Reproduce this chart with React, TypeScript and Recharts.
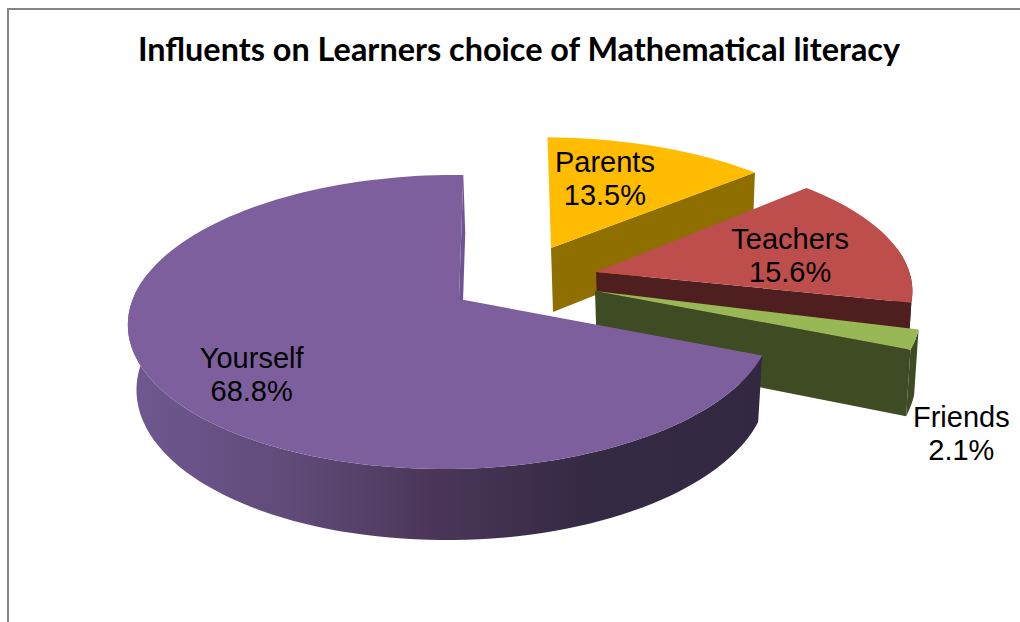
import React from "react";
import { PieChart, Pie } from "recharts";

const TITLE = "Influents on Learners choice of Mathematical literacy";
const CATEGORIES = ["Parents", "Teachers", "Friends", "Yourself"];
const VALUES = [13.5, 15.6, 2.1, 68.8];

const DATA = CATEGORIES.map((name, i) => ({ name, value: VALUES[i] }));

const CX = 459;
const CY = 299;
const RADIUS = 318;

// tilt of the fake 3D pie
const Y_RATIO = 0.451;
const PERSPECTIVE_V = 0.156;
const PERSPECTIVE_U = 0.025;
const DEPTH = 64;
const FLOOR_SHRINK = 0.98;
const FLOOR_SHIFT = 2;

// per slice look: how far it is pulled out, and its size
const SLICES: Record<string, any> = {
  Parents: { top: "#ffbc00", wall: "#8e6f00", face: "#8e6f00", dx: 92, dy: -51, scale: 0.97, squash: 0.92, turn: 0, skew: -4, labelAt: 0.6, nudge: [-9, -8] },
  Teachers: { top: "#be4e4c", wall: "#4f1e1e", face: "#4f1e1e", dx: 137, dy: -27, scale: 1.01, squash: 0.95, turn: 2, skew: 5, labelAt: 0.66, nudge: [1, 7] },
  Friends: { top: "#98b855", wall: "#3f4b23", face: "#3f4b23", dx: 136, dy: -8, scale: 1.04, squash: 1, turn: 0, skew: 5, labelAt: 1.14, nudge: [1, 87] },
  Yourself: { top: "#7e5f9d", wall: "url(#yourselfWall)", face: "#6e5490", dx: 0, dy: 0, scale: 1, squash: 1, turn: 0, skew: 5, labelAt: 0.7, nudge: [3, 13] },
};

function project(angle: number, r: number, s: any) {
  const a = ((angle + s.turn) * Math.PI) / 180;
  const u = Math.cos(a);
  const v = Math.sin(a);
  const d = 1 + PERSPECTIVE_V * v + PERSPECTIVE_U * u;
  return { x: (r * u + s.skew * v) / d, y: (-r * Y_RATIO * s.squash * v) / d, v };
}

function SliceShape(props: any) {
  const { cx, cy, outerRadius, startAngle, endAngle } = props;
  const name = props.payload?.name ?? props.name;
  const s = SLICES[name];
  const ox = cx + s.dx;
  const oy = cy + s.dy;
  const r = outerRadius * s.scale;

  const rim: { x: number; y: number; v: number }[] = [];
  const steps = Math.max(4, Math.ceil(Math.abs(endAngle - startAngle) / 2));
  for (let i = 0; i <= steps; i++) {
    rim.push(project(startAngle + ((endAngle - startAngle) * i) / steps, r, s));
  }
  const up = (p: any) => `${ox + p.x},${oy + p.y}`;
  const down = (p: any) => `${ox + p.x * FLOOR_SHRINK + FLOOR_SHIFT},${oy + p.y + DEPTH / (1 + 0.1 * p.v)}`;
  const apex = { x: 0, y: 0, v: 0 };
  const last = rim[rim.length - 1];
  // the back of the rim is never seen
  const front = rim.filter((p) => p.v < 0.2);

  return (
    <g>
      <defs>
        <linearGradient id="yourselfWall" gradientUnits="userSpaceOnUse" x1={127} x2={763} y1={0} y2={0}>
          <stop offset="0" stopColor="#705892" />
          <stop offset="0.27" stopColor="#5f4a77" />
          <stop offset="0.48" stopColor="#4b3659" />
          <stop offset="0.72" stopColor="#352a44" />
          <stop offset="1" stopColor="#332842" />
        </linearGradient>
      </defs>
      <polygon points={[up(apex), up(last), down(last), down(apex)].join(" ")} fill={s.face} />
      <polygon points={[...front.map(up), ...[...front].reverse().map(down)].join(" ")} fill={s.wall} />
      <polygon points={[up(apex), ...rim.map(up)].join(" ")} fill={s.top} />
    </g>
  );
}

function SliceLabel(props: any) {
  const { cx, cy, outerRadius, midAngle, value } = props;
  const name = props.payload?.name ?? props.name;
  const s = SLICES[name];
  const p = project(midAngle, outerRadius * s.scale * s.labelAt, s);
  const x = cx + s.dx + p.x + s.nudge[0];
  const y = cy + s.dy + p.y + s.nudge[1];
  return (
    <text x={x} y={y} textAnchor="middle" fontFamily="'Liberation Sans', Arial, sans-serif" fontSize={29} fill="#000">
      <tspan x={x} dy={-7}>{name}</tspan>
      <tspan x={x} dy={33}>{value.toFixed(1)}%</tspan>
    </text>
  );
}

export default function App() {
  return (
    <div style={{ position: "absolute", left: 0, top: 0, width: 1020, height: 622, overflow: "hidden", background: "#fff" }}>
      <div
        style={{
          position: "absolute",
          left: 7,
          top: 8,
          width: 1100,
          height: 700,
          borderLeft: "2px solid #858585",
          borderTop: "2px solid #858585",
        }}
      />
      <div
        style={{
          position: "absolute",
          left: 0,
          width: 1038,
          top: 29,
          textAlign: "center",
          fontFamily: "Lato, sans-serif",
          fontWeight: 700,
          fontSize: 32.4,
          lineHeight: "40px",
          color: "#000",
          whiteSpace: "nowrap",
        }}
      >
        {TITLE}
      </div>
      <div style={{ position: "absolute", left: 0, top: 0 }}>
        <PieChart width={1020} height={622} margin={{ top: 0, right: 0, bottom: 0, left: 0 }}>
          <Pie
            data={DATA}
            dataKey="value"
            nameKey="name"
            cx={CX}
            cy={CY}
            innerRadius={0}
            outerRadius={RADIUS}
            startAngle={90}
            endAngle={-270}
            stroke="none"
            shape={SliceShape}
            label={SliceLabel}
            labelLine={false}
            isAnimationActive={false}
          />
        </PieChart>
      </div>
    </div>
  );
}
